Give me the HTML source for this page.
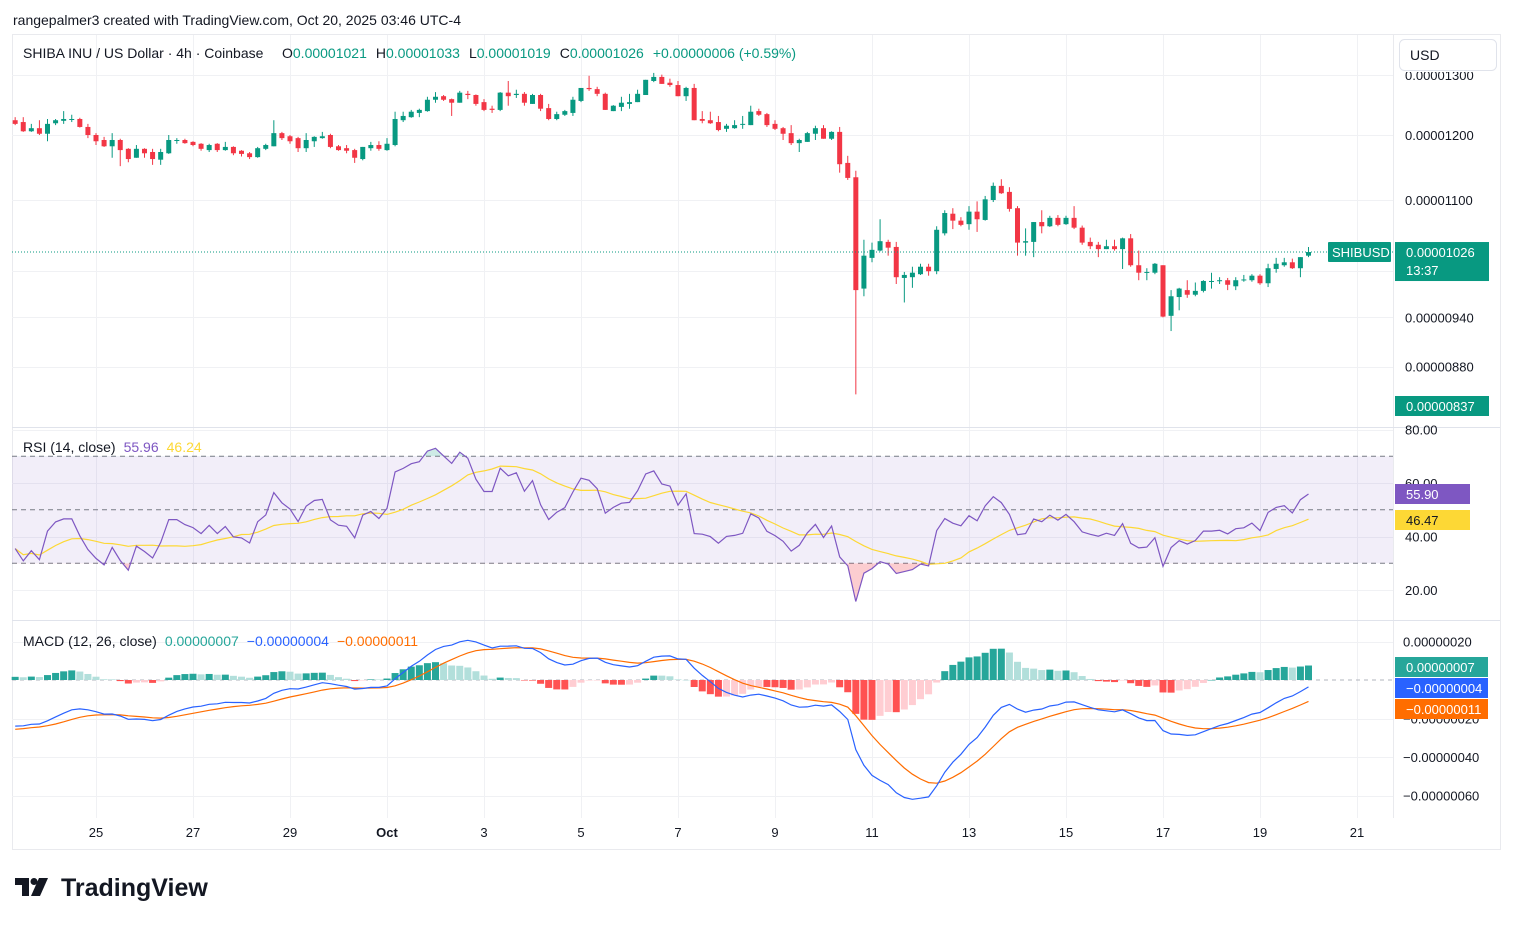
<!DOCTYPE html>
<html><head><meta charset="utf-8"><title>SHIBUSD 4h</title>
<style>
html,body{margin:0;padding:0;background:#fff;}
body{width:1514px;height:925px;overflow:hidden;position:relative;font-family:"Liberation Sans",sans-serif;color:#131722;}
svg text{font-family:"Liberation Sans",sans-serif;}
</style></head>
<body>
<svg id="chart" width="1514" height="925" viewBox="0 0 1514 925" xmlns="http://www.w3.org/2000/svg">
  <text x="13" y="25" font-size="14" fill="#131722">rangepalmer3 created with TradingView.com, Oct 20, 2025 03:46 UTC-4</text>
  <rect x="12.5" y="34.5" width="1488" height="815" fill="#fff" stroke="#e9eaee"/>
  <g id="grid"></g>
  <g id="rsiBand"></g>
  <g id="candles"></g>
  <g id="rsi"></g>
  <g id="macd"></g>
  <line x1="1393.5" y1="35" x2="1393.5" y2="818" stroke="#e9eaee"/>
  <line x1="12" y1="427.5" x2="1500" y2="427.5" stroke="#e0e3eb"/>
  <line x1="12" y1="620.5" x2="1500" y2="620.5" stroke="#e0e3eb"/>
  <g id="axes"></g>
  <text x="23" y="58" font-size="14" fill="#131722">SHIBA INU / US Dollar · 4h · Coinbase</text>
  <text x="282" y="58" font-size="14"><tspan fill="#131722">O</tspan><tspan fill="#089981">0.00001021</tspan><tspan fill="#131722" dx="9">H</tspan><tspan fill="#089981">0.00001033</tspan><tspan fill="#131722" dx="9">L</tspan><tspan fill="#089981">0.00001019</tspan><tspan fill="#131722" dx="9">C</tspan><tspan fill="#089981">0.00001026</tspan><tspan fill="#089981" dx="9">+0.00000006 (+0.59%)</tspan></text>
  <rect x="1399.5" y="39.5" width="97" height="31" rx="5" fill="#fff" stroke="#e0e3eb"/>
  <text x="1410" y="60" font-size="14" fill="#131722">USD</text>
  <text x="23" y="452" font-size="14"><tspan fill="#131722">RSI (14, close)</tspan><tspan fill="#7e57c2" dx="8">55.96</tspan><tspan fill="#fdd835" dx="8">46.24</tspan></text>
  <text x="23" y="646" font-size="14"><tspan fill="#131722">MACD (12, 26, close)</tspan><tspan fill="#26a69a" dx="8">0.00000007</tspan><tspan fill="#2962ff" dx="8">−0.00000004</tspan><tspan fill="#ff6d00" dx="8">−0.00000011</tspan></text>
  <g>
    <path d="M15 878 H29 V896 H22 V885 H15 Z" fill="#131722"/>
    <circle cx="34" cy="881.5" r="3.5" fill="#131722"/>
    <path d="M39 878 H48 L40 896 H31 Z" fill="#131722"/>
    <text x="61" y="896" font-size="25" font-weight="bold" fill="#131722">TradingView</text>
  </g>
</svg>
<script>
// ---- data (prices in units of 1e-8 USD) ----
const opens=[1224,1221,1206,1211,1202,1219,1223,1225,1226,1213,1200,1192,1182,1192,1178,1164,1178,1173,1161,1171,1191,1192,1189,1186,1176,1186,1176,1181,1175,1171,1165,1178,1182,1203,1198,1195,1179,1190,1195,1200,1182,1179,1176,1162,1179,1184,1176,1184,1224,1229,1236,1239,1258,1264,1259,1253,1268,1266,1254,1243,1241,1270,1266,1268,1251,1266,1244,1226,1233,1236,1256,1278,1276,1268,1239,1246,1251,1254,1266,1290,1297,1287,1283,1264,1278,1226,1224,1221,1210,1211,1217,1216,1239,1234,1218,1211,1203,1187,1189,1202,1211,1194,1205,1156,1134,977,1018,1028,1040,1033,991,992,996,1006,1000,1052,1080,1070,1065,1083,1071,1100,1121,1112,1088,1039,1040,1068,1062,1074,1065,1074,1060,1040,1036,1030,1034,1030,1045,1008,998,998,1008,942,966,975,969,974,986,987,988,980,988,988,994,984,1003,1008,1012,1004,1021];
const highs=[1229,1229,1218,1224,1226,1226,1239,1233,1228,1218,1203,1197,1203,1194,1179,1184,1179,1178,1178,1200,1195,1194,1190,1187,1186,1187,1189,1182,1176,1173,1181,1186,1224,1205,1200,1197,1203,1198,1205,1202,1184,1184,1178,1181,1189,1190,1195,1238,1238,1241,1243,1263,1271,1266,1260,1273,1273,1267,1259,1248,1271,1290,1275,1271,1268,1268,1251,1238,1241,1263,1278,1299,1280,1270,1249,1263,1268,1275,1292,1304,1301,1294,1290,1280,1285,1239,1238,1231,1218,1224,1231,1248,1243,1236,1224,1213,1216,1194,1205,1215,1216,1206,1213,1167,1144,1043,1039,1072,1043,1040,999,1006,1010,1010,1062,1085,1088,1075,1091,1098,1106,1126,1131,1119,1091,1059,1068,1085,1077,1078,1077,1091,1063,1046,1040,1043,1043,1046,1051,1028,1004,1011,1008,975,978,988,985,988,998,992,991,992,995,996,996,1010,1018,1018,1017,1019,1033];
const lows=[1216,1205,1205,1200,1190,1216,1218,1221,1212,1195,1184,1181,1164,1151,1157,1164,1164,1153,1153,1170,1186,1186,1182,1175,1173,1173,1175,1168,1166,1162,1164,1176,1182,1192,1186,1173,1173,1181,1194,1179,1175,1171,1156,1160,1175,1175,1175,1182,1221,1228,1229,1238,1253,1256,1231,1253,1259,1248,1239,1236,1239,1248,1261,1248,1251,1239,1224,1224,1231,1231,1254,1273,1264,1241,1239,1239,1243,1254,1266,1288,1285,1280,1264,1256,1224,1219,1218,1206,1205,1210,1210,1216,1231,1213,1208,1192,1184,1173,1189,1192,1194,1192,1141,1130,848,967,1012,1027,1021,983,959,978,995,994,996,1049,1058,1062,1057,1054,1070,1097,1109,1083,1021,1021,1019,1052,1061,1062,1064,1058,1036,1030,1019,1030,1028,1003,1006,988,988,996,940,923,949,965,967,972,977,983,975,975,986,986,982,979,998,1006,1003,992,1019];
const closes=[1218,1206,1211,1202,1218,1224,1226,1226,1213,1200,1190,1182,1192,1176,1162,1178,1171,1162,1173,1192,1192,1187,1184,1178,1184,1176,1181,1171,1170,1165,1179,1184,1203,1195,1190,1179,1192,1197,1198,1181,1176,1175,1164,1181,1184,1178,1186,1226,1231,1238,1241,1258,1263,1258,1253,1270,1266,1251,1241,1241,1270,1264,1268,1253,1266,1243,1226,1234,1239,1258,1278,1276,1268,1241,1248,1253,1254,1268,1292,1297,1285,1283,1264,1278,1224,1223,1219,1208,1215,1216,1218,1238,1233,1216,1210,1202,1187,1192,1203,1211,1194,1205,1154,1133,975,1021,1029,1041,1032,992,995,998,1006,1000,1057,1081,1070,1064,1083,1072,1101,1121,1110,1087,1039,1041,1068,1062,1074,1064,1074,1060,1039,1034,1030,1034,1030,1045,1008,998,999,1010,941,967,977,969,974,987,987,988,982,988,989,994,984,1004,1010,1012,1004,1019,1026];
const dateTicks=["25","27","29","Oct","3","5","7","9","11","13","15","17","19","21"];
const dateTickDays=[0,2,4,6,8,10,12,14,16,18,20,22,24,26]; // days after Sep 25
const priceTicks=[1300,1200,1100,940,880];
const priceGrid=[1300,1200,1100,1000,940,880];
const rsiTicks=[80,60,40,20];
const macdTicks=[20,-20,-40,-60];
// indicator warm-up state (prior history not visible)
const rsiSeed=[2.2,4.0];          // avg gain, avg loss
const macdSeed=[1228,1253,-26];   // ema12, ema26, signal

// ---- axis functions ----
const NS="http://www.w3.org/2000/svg";
const N=closes.length;
const DAY=48.5, X25=96;
function xDay(d){return X25+d*DAY;}
function xI(i){return 1308.5-(N-1-i)*DAY/6;}
function yP(p){return 200-747*Math.log(p/1100);}
function yR(v){return 590-(v-20)*2.675;}
function yM(v){return 680-v*1.925;}
function mk(tag,attrs,parent){const e=document.createElementNS(NS,tag);for(const k in attrs)e.setAttribute(k,attrs[k]);parent.appendChild(e);return e;}
const svg=document.getElementById('chart');
const grid=document.getElementById('grid'), axes=document.getElementById('axes');

// grid
dateTickDays.forEach((d,k)=>{
  const x=Math.round(xDay(d))+0.5;
  const l=mk('line',{x1:x,y1:35,x2:x,y2:818,stroke:'#f0f1f4'},grid);
  
  
  const t=mk('text',{x:xDay(d),y:837,'font-size':13,'text-anchor':'middle',fill:'#131722','font-weight':dateTicks[k]==='Oct'?'bold':'normal'},axes);
  t.textContent=dateTicks[k];
  
  
});
priceGrid.forEach(p=>{
  const y=Math.round(yP(p))+0.5;
  const l=mk('line',{x1:12,y1:y,x2:1393,y2:y,stroke:'#f0f1f4'},grid);
  
  
});
priceTicks.forEach(p=>{
  const y=yP(p);
  if(y<76){
    const t=mk('text',{x:1405,y:y+5,'font-size':13,fill:'#131722','clip-path':'url(#topclip)'},axes);
    t.textContent=(p*1e-8).toFixed(8);
    
    
  } else {
    const t=mk('text',{x:1405,y:y+5,'font-size':13,fill:'#131722'},axes);
    t.textContent=(p*1e-8).toFixed(8);
    
    
  }
});
const defs=mk('defs',{},svg);
const cp=mk('clipPath',{id:'topclip'},defs); mk('rect',{x:1394,y:72,width:110,height:20},cp);
const cpP=mk('clipPath',{id:'priceclip'},defs); mk('rect',{x:12,y:35,width:1381,height:392},cpP);
rsiTicks.forEach(v=>{
  const y=Math.round(yR(v))+0.5;
  const l=mk('line',{x1:12,y1:y,x2:1393,y2:y,stroke:'#f0f1f4'},grid);
  
  
  const t=mk('text',{x:1405,y:yR(v)+5,'font-size':13,fill:'#131722'},axes);
  t.textContent=v.toFixed(2);
  
  
});
macdTicks.forEach(v=>{
  const y=Math.round(yM(v))+0.5;
  const l=mk('line',{x1:12,y1:y,x2:1393,y2:y,stroke:'#f0f1f4'},grid);
  
  
  const t=mk('text',{x:1403,y:yM(v)+5,'font-size':13,fill:'#131722'},axes);
  t.textContent=(v<0?'−':'')+Math.abs(v*1e-8).toFixed(8);
  
  
});

// candles
const cg=document.getElementById('candles');
cg.setAttribute('clip-path','url(#priceclip)');
for(let i=0;i<N;i++){
  const up=closes[i]>=opens[i];
  const col=up?'#089981':'#f23645';
  const x=xI(i);
  const w=mk('line',{x1:x,y1:yP(highs[i]),x2:x,y2:yP(lows[i]),stroke:col,'stroke-width':1},cg);
  
  
  const yt=yP(Math.max(opens[i],closes[i])), yb=yP(Math.min(opens[i],closes[i]));
  const b=mk('rect',{x:x-2.5,y:yt,width:5,height:Math.max(1,yb-yt),fill:col},cg);
  
  
}
// last price line
const lastY=yP(closes[N-1]);
const pl=mk('line',{x1:12,y1:lastY,x2:1393,y2:lastY,stroke:'#089981','stroke-dasharray':'1 2'},svg);


const sb=mk('rect',{x:1328,y:lastY-10,width:63,height:20,fill:'#089981',rx:1},svg);


const st=mk('text',{x:1332,y:lastY+5,'font-size':13,fill:'#fff'},svg); st.textContent='SHIBUSD';


const lb=mk('rect',{x:1395,y:lastY-10,width:94,height:39,fill:'#089981'},svg);


const lt=mk('text',{x:1406,y:lastY+5,'font-size':13,fill:'#fff'},svg); lt.textContent=(closes[N-1]*1e-8).toFixed(8);


const ct=mk('text',{x:1406,y:lastY+23,'font-size':13,fill:'#fff'},svg); ct.textContent='13:37';


const lowb=mk('rect',{x:1395,y:396,width:94,height:20,fill:'#089981'},svg);


const lowt=mk('text',{x:1406,y:411,'font-size':13,fill:'#fff'},svg); lowt.textContent='0.00000837';



// ---- RSI ----
const rsi=[];
let ag=rsiSeed[0], al=rsiSeed[1];
for(let i=0;i<N;i++){
  if(i>0){const d=closes[i]-closes[i-1];ag=(ag*13+Math.max(d,0))/14;al=(al*13+Math.max(-d,0))/14;}
  rsi.push(100-100/(1+ag/al));
}
const rsiMa=rsi.map((v,i)=>{const s=Math.max(0,i-13);let t=0;for(let k=s;k<=i;k++)t+=rsi[k];return t/(i-s+1);});
const band=document.getElementById('rsiBand');
const br=mk('rect',{x:12,y:yR(70),width:1381,height:yR(30)-yR(70),fill:'rgba(126,87,194,0.1)'},band);


[70,50,30].forEach(v=>{
  const l=mk('line',{x1:12,y1:yR(v),x2:1393,y2:yR(v),stroke:'#787b86','stroke-dasharray':'5 4'},band);
  
  
});
const rg=document.getElementById('rsi');
const cpL=mk('clipPath',{id:'osclip'},defs); mk('rect',{x:12,y:yR(30),width:1381,height:60},cpL);
const cpH=mk('clipPath',{id:'obclip'},defs); mk('rect',{x:12,y:428,width:1381,height:yR(70)-428},cpH);
let rp='', rpm='';
rsi.forEach((v,i)=>{rp+=(i?'L':'M')+xI(i).toFixed(1)+','+yR(v).toFixed(1);});
rsiMa.forEach((v,i)=>{rpm+=(i?'L':'M')+xI(i).toFixed(1)+','+yR(v).toFixed(1);});
const os=mk('path',{d:rp+'L'+xI(N-1)+','+yR(30)+'L'+xI(0)+','+yR(30)+'Z',fill:'rgba(242,54,69,0.25)','clip-path':'url(#osclip)'},rg);


const ob=mk('path',{d:rp+'L'+xI(N-1)+','+yR(70)+'L'+xI(0)+','+yR(70)+'Z',fill:'rgba(8,153,129,0.2)','clip-path':'url(#obclip)'},rg);


const rma=mk('path',{d:rpm,fill:'none',stroke:'#fdd835','stroke-width':1.2},rg);


const rl=mk('path',{d:rp,fill:'none',stroke:'#7e57c2','stroke-width':1.2},rg);


function tag(y,bg,fg,txt,name,w){
  const r=mk('rect',{x:1395,y:y-10,width:w||74,height:20,fill:bg},svg);
  
  
  const t=mk('text',{x:1406,y:y+5,'font-size':13,fill:fg},svg); t.textContent=txt;
  
  
}
tag(494,'#7e57c2','#fff',rsi[N-1].toFixed(2),'rsi-value-label',75);
tag(520,'#fdd835','#131722',rsiMa[N-1].toFixed(2),'rsi-ma-value-label',75);

// ---- MACD ----
let e12=macdSeed[0], e26=macdSeed[1], sig=macdSeed[2];
const macd=[], signal=[], hist=[];
for(let i=0;i<N;i++){
  e12+= (closes[i]-e12)*2/13; e26+=(closes[i]-e26)*2/27;
  const m=e12-e26; sig+=(m-sig)*2/10;
  macd.push(m); signal.push(sig); hist.push(m-sig);
}
const mg=document.getElementById('macd');
const z=mk('line',{x1:12,y1:yM(0),x2:1393,y2:yM(0),stroke:'#b2b5be','stroke-dasharray':'4 4'},mg);


for(let i=0;i<N;i++){
  const h=hist[i], prev=i?hist[i-1]:h;
  const col=h>=0?(h>=prev?'#26a69a':'#b2dfdb'):(h<prev?'#ff5252':'#ffcdd2');
  const y0=yM(0), y1=yM(h);
  const b=mk('rect',{x:xI(i)-3.5,y:Math.min(y0,y1),width:7,height:Math.max(0.5,Math.abs(y1-y0)),fill:col},mg);
  
  
}
let mp='', sp='';
macd.forEach((v,i)=>{mp+=(i?'L':'M')+xI(i).toFixed(1)+','+yM(v).toFixed(1);});
signal.forEach((v,i)=>{sp+=(i?'L':'M')+xI(i).toFixed(1)+','+yM(v).toFixed(1);});
const sl=mk('path',{d:sp,fill:'none',stroke:'#ff6d00','stroke-width':1.2},mg);


const ml=mk('path',{d:mp,fill:'none',stroke:'#2962ff','stroke-width':1.2},mg);


function fm(v){return (v<0?'−':'')+Math.abs(v*1e-8).toFixed(8);}
tag(667,'#26a69a','#fff','0.00000007','macd-histogram-value-label',93);
tag(688,'#2962ff','#fff','−0.00000004','macd-value-label',93);
tag(709,'#ff6d00','#fff','−0.00000011','macd-signal-value-label',93);
</script>
</body></html>
